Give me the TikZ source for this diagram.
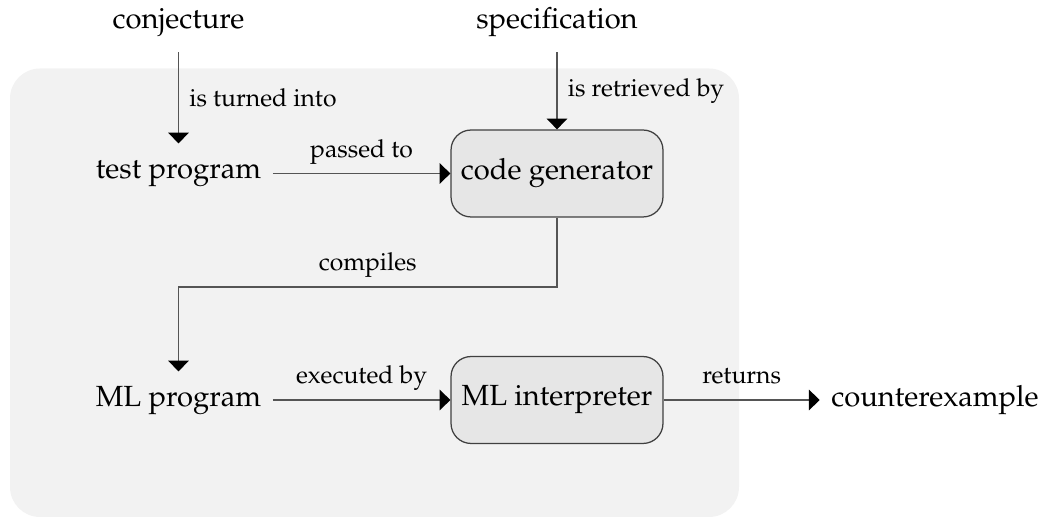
\documentclass[tikz,border=0pt]{standalone}
\usepackage[T1]{fontenc}
\usepackage{mathpazo}
\usetikzlibrary{arrows.meta}
\definecolor{bgfill}{HTML}{F2F2F2}
\definecolor{boxfill}{HTML}{E6E6E6}
\definecolor{linegray}{HTML}{555555}
\begin{document}
\begin{tikzpicture}[x=0.36pt,y=-0.36pt,
 txt/.style={font=\fontsize{10.5}{12.5}\selectfont, inner xsep=4pt, inner ysep=5.1pt, text height=0.75em, text depth=0.3em, anchor=base},
 lbl/.style={font=\fontsize{8.9}{10.5}\selectfont, inner sep=0pt},
 hlbl/.style={lbl, midway, anchor=base, yshift=5.8pt},
 vlbl/.style={lbl, midway, anchor=west, xshift=3.6pt},
 procbox/.style={draw=black!75, fill=boxfill, rounded corners=7.2pt, minimum width=76.3pt, minimum height=31.3pt, font=\fontsize{10.5}{12.5}\selectfont, line width=0.45pt, inner sep=0pt},
 conn/.style={draw=linegray, line width=0.6pt, -{Triangle[length=3.9pt,width=7.4pt,fill=black,color=black]}},
]
\useasboundingbox (0,0) rectangle (1042,518);
\fill[bgfill, rounded corners=10.8pt] (10,68.5) rectangle (739,517);
\node[txt] (conj) at (178.5,29) {conjecture};
\node[txt] (spec) at (557,29) {specification};
\node[txt] (test) at (178.5,179) {test program};
\node[txt] (ml) at (178.5,407) {ML program};
\node[txt] (cex) at (935,406.5) {counterexample};
\node[procbox] (cg) at (557,173.5) {code generator};
\node[procbox] (mli) at (557,400) {ML interpreter};
\coordinate (c1) at (557,287);
\coordinate (c2) at (178.5,287);
\draw[conn] (conj.south) -- node[vlbl] {is turned into} (test.north);
\draw[conn] (spec.south) -- node[vlbl] {is retrieved by} (cg.north);
\draw[conn] (test.east |- cg.west) -- node[hlbl] {passed to} (cg.west);
\draw[conn] (cg.south) -- (c1) -- node[hlbl] {compiles} (c2) -- (ml.north);
\draw[conn] (ml.east |- mli.west) -- node[hlbl] {executed by} (mli.west);
\draw[conn] (mli.east) -- node[hlbl] {returns} (cex.west |- mli.east);
\end{tikzpicture}
\end{document}
